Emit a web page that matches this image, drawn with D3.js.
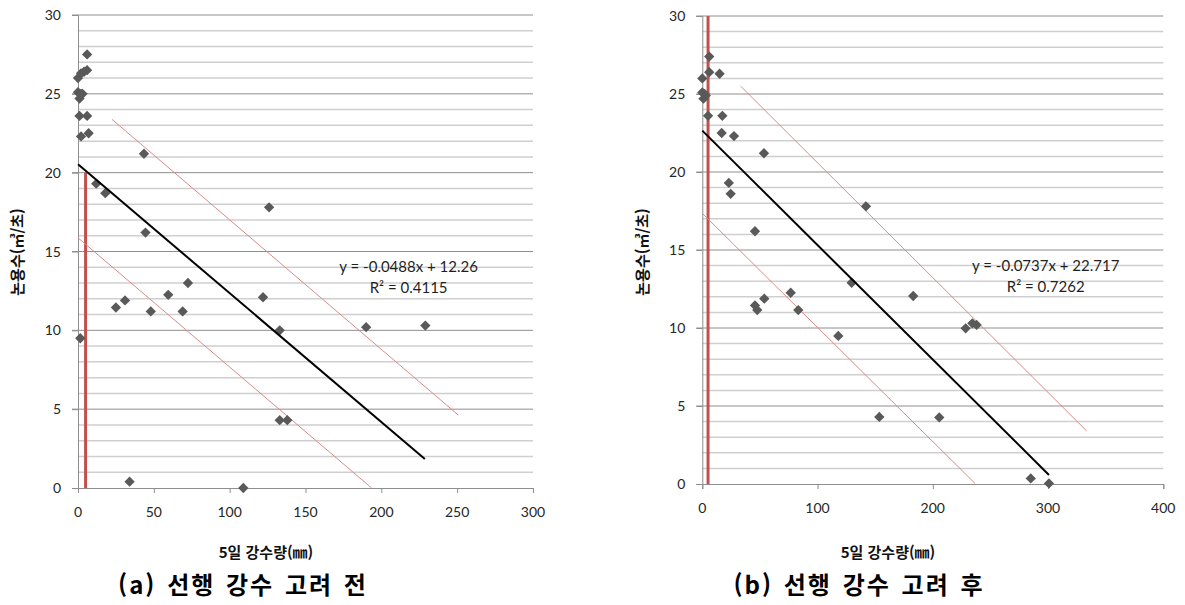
<!DOCTYPE html>
<html lang="ko">
<head>
<meta charset="UTF-8">
<title>논용수 - 5일 강수량</title>
<style>
body { margin: 0; background: #fff; }
svg { display: block; }
.tick-label { font-family: Lato, "Open Sans", sans-serif; font-size: 14px; fill: #262626; }
.axis-title { font-family: "Noto Sans CJK KR", sans-serif; font-size: 15px; font-weight: bold; fill: #111; }
.caption { font-family: "Noto Sans CJK KR", sans-serif; font-size: 24px; font-weight: bold; fill: #000; letter-spacing: 2px; word-spacing: 2px; }
.eq { font-family: Lato, "Open Sans", sans-serif; font-size: 15px; fill: #1f1f1f; }
</style>
<script src="https://d3js.org/d3.v7.min.js"></script>
</head>
<body>
<svg id="chart" width="1185" height="605"></svg>
<script>
// (a) before considering antecedent rainfall
const rainA = [6, 0, 2, 4, 6, 0, 1, 2, 3, 1, 6, 2, 7, 43.5, 12, 18, 44.5, 126, 72.5, 59.5, 122, 31, 25, 48, 69, 133, 190, 229, 1.5, 133, 138, 34, 109];
const flowA = [27.5, 26.0, 26.3, 26.4, 26.5, 25.1, 24.7, 25.0, 25.0, 23.6, 23.6, 22.3, 22.5, 21.2, 19.3, 18.7, 16.2, 17.8, 13.0, 12.25, 12.1, 11.9, 11.45, 11.2, 11.2, 10.0, 10.2, 10.3, 9.5, 4.3, 4.3, 0.4, 0.0];
const trendA = [[0, 20.53], [228.7, 1.84]];
const upperA = [[22.4, 23.38], [250.7, 4.63]];
const lowerA = [[0, 15.87], [193.6, 0]];
const markA = [[5, 20], [5, 0]];
const eqA = ["y = -0.0488x + 12.26", "R² = 0.4115"];
const eqPosA = [218, 14];

// (b) after considering antecedent rainfall
const rainB = [6, 0, 6, 15, 0, 1, 2, 3, 5, 17.4, 16.8, 27.5, 53.5, 23, 24.6, 45.7, 142, 129.6, 183, 76.7, 53.8, 45.7, 47.7, 83.3, 118, 153.6, 205.6, 228.5, 234.3, 238, 285, 300.8];
const flowB = [27.4, 26.0, 26.4, 26.3, 25.1, 24.7, 25.0, 24.9, 23.6, 23.6, 22.5, 22.3, 21.2, 19.3, 18.6, 16.2, 17.8, 12.9, 12.05, 12.26, 11.88, 11.45, 11.15, 11.15, 9.49, 4.3, 4.27, 9.98, 10.3, 10.2, 0.36, 0.04];
const trendB = [[0, 22.65], [300.8, 0.58]];
const upperB = [[33.3, 25.5], [333.5, 3.4]];
const lowerB = [[0, 17.35], [236.6, 0.04]];
const markB = [[5, 30], [5, 0]];
const eqB = ["y = -0.0737x + 22.717", "R² = 0.7262"];
const eqPosB = [298, 14];

const xTicksA = [0, 50, 100, 150, 200, 250, 300];
const xTicksB = [0, 100, 200, 300, 400];
const yTicks = [0, 5, 10, 15, 20, 25, 30];
const yMinor = d3.range(1, 30).filter(v => v % 5 !== 0);

const xTitle = "5일 강수량(㎜)";
const yTitle = "논용수(㎥/초)";

const svg = d3.select("#chart");

function panel(o) {
    const x = d3.scaleLinear().domain(o.xDomain).range(o.xRange);
    const y = d3.scaleLinear().domain([0, 30]).range(o.yRange);
    const g = svg.append("g");
    const x0 = o.xRange[0], x1 = o.xRange[1];

    // minor gridlines
    g.selectAll(".minor").data(yMinor).enter().append("line")
        .attr("x1", x0).attr("x2", x1)
        .attr("y1", d => y(d)).attr("y2", d => y(d))
        .attr("stroke", "#cfcfcf").attr("stroke-width", 1.5);

    // major gridlines with left tick
    g.selectAll(".major").data(yTicks.slice(1)).enter().append("line")
        .attr("x1", x0 - 6).attr("x2", x1)
        .attr("y1", d => y(d)).attr("y2", d => y(d))
        .attr("stroke", "#8e8e8e").attr("stroke-width", 1);

    // axes
    const xAxis = g.append("g")
        .attr("transform", "translate(0," + y(0) + ")")
        .call(d3.axisBottom(x).tickValues(o.xTicks).tickSize(5).tickFormat(""));
    xAxis.select(".domain").attr("stroke", "#8e8e8e");
    xAxis.selectAll(".tick line").attr("stroke", "#8e8e8e");

    const yAxis = g.append("g")
        .attr("transform", "translate(" + x0 + ",0)")
        .call(d3.axisLeft(y).tickValues(yTicks).tickSize(6).tickFormat(""));
    yAxis.select(".domain").attr("stroke", "#8e8e8e");
    yAxis.selectAll(".tick line").attr("stroke", "#8e8e8e");

    g.selectAll(".xl").data(o.xTicks).enter().append("text")
        .attr("class", "tick-label")
        .attr("x", d => x(d)).attr("y", y(0) + 29)
        .attr("text-anchor", "middle").text(d => d);

    g.selectAll(".yl").data(yTicks).enter().append("text")
        .attr("class", "tick-label")
        .attr("x", x0 - 17).attr("y", d => y(d) + 5)
        .attr("text-anchor", "end").text(d => d);

    // red marker line
    g.append("line")
        .attr("x1", x(o.mark[0][0])).attr("x2", x(o.mark[1][0]))
        .attr("y1", y(o.mark[0][1])).attr("y2", y(o.mark[1][1]))
        .attr("stroke", "#c0504d").attr("stroke-width", 3);

    const line = d3.line().x(d => x(d[0])).y(d => y(d[1]));
    g.append("path").attr("d", line(o.upper)).attr("fill", "none")
        .attr("stroke", "#d88b88").attr("stroke-width", 1);
    g.append("path").attr("d", line(o.lower)).attr("fill", "none")
        .attr("stroke", "#d88b88").attr("stroke-width", 1);

    // points
    const pts = o.rain.map((r, i) => [r, o.flow[i]]);
    g.selectAll(".pt").data(pts).enter().append("path")
        .attr("d", d3.symbol().type(d3.symbolDiamond2).size(68))
        .attr("transform", d => "translate(" + x(d[0]) + "," + y(d[1]) + ")")
        .attr("fill", "#595959");

    g.append("path").attr("d", line(o.trend)).attr("fill", "none")
        .attr("stroke", "#000").attr("stroke-width", 2);

    // equation
    g.selectAll(".eq").data(o.eq).enter().append("text")
        .attr("class", "eq")
        .attr("x", x(o.eqPos[0]))
        .attr("y", (d, i) => y(o.eqPos[1]) + 5 + i * 21)
        .attr("text-anchor", "middle").text(d => d);

    // titles
    g.append("text").attr("class", "axis-title")
        .attr("x", o.xTitleX).attr("y", 558)
        .attr("text-anchor", "middle").text(xTitle);

    g.append("text").attr("class", "axis-title")
        .attr("transform", "translate(" + o.yTitleX + ",252) rotate(-90)")
        .attr("text-anchor", "middle").text(yTitle);

    g.append("text").attr("class", "caption")
        .attr("x", o.capX).attr("y", 594)
        .attr("text-anchor", "middle").text(o.caption);
}

panel({
    xDomain: [0, 300], xRange: [78, 533], yRange: [488, 15],
    xTicks: xTicksA, rain: rainA, flow: flowA,
    trend: trendA, upper: upperA, lower: lowerA, mark: markA,
    eq: eqA, eqPos: eqPosA,
    xTitleX: 266, yTitleX: 23, capX: 243,
    caption: "(a) 선행 강수 고려 전"
});

panel({
    xDomain: [0, 400], xRange: [702.3, 1163.3], yRange: [484, 16],
    xTicks: xTicksB, rain: rainB, flow: flowB,
    trend: trendB, upper: upperB, lower: lowerB, mark: markB,
    eq: eqB, eqPos: eqPosB,
    xTitleX: 888, yTitleX: 648, capX: 859,
    caption: "(b) 선행 강수 고려 후"
});
</script>
</body>
</html>
